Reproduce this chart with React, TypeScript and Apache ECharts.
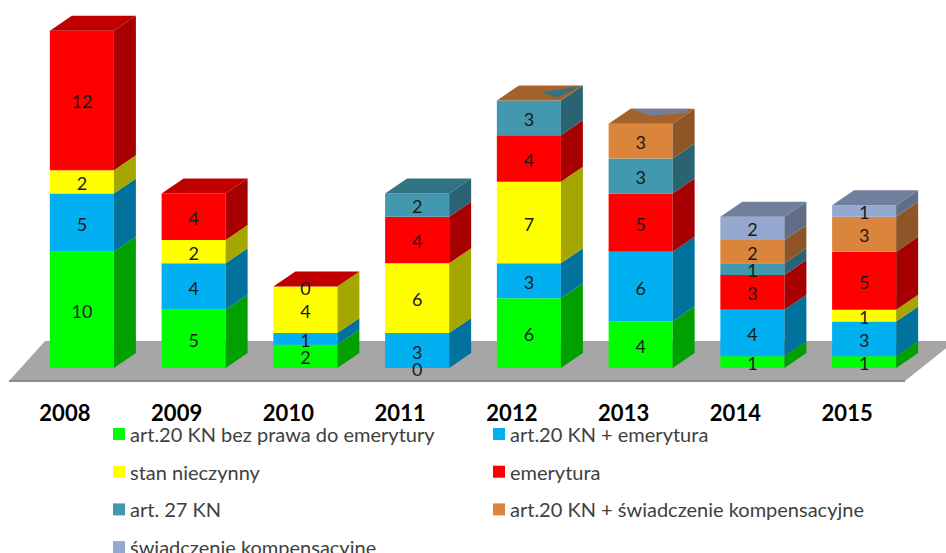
import React, { useEffect, useRef } from "react";
import * as echarts from "echarts";

const years = ["2008", "2009", "2010", "2011", "2012", "2013", "2014", "2015"];
const seriesNames = [
  "art.20 KN bez prawa do emerytury",
  "art.20 KN + emerytura",
  "stan nieczynny",
  "emerytura",
  "art. 27 KN",
  "art.20 KN + świadczenie kompensacyjne",
  "świadczenie kompensacyjne",
];

const bezPrawa = [10, 5, 2, 0, 6, 4, 1, 1];
const zEmerytura = [5, 4, 1, 3, 3, 6, 4, 3];
const stanNieczynny = [2, 2, 4, 6, 7, null, null, 1];
const emerytura = [12, 4, 0, 4, 4, 5, 3, 5];
const art27 = [null, null, null, 2, 3, 3, 1, null];
const zSwiadczenie = [null, null, null, null, null, 3, 2, 3];
const swiadczenie = [null, null, null, null, null, null, 2, 1];

const allValues: (number | null)[][] = [
  bezPrawa,
  zEmerytura,
  stanNieczynny,
  emerytura,
  art27,
  zSwiadczenie,
  swiadczenie,
];

const FRONT = ["#00ff00", "#00b0f0", "#ffff00", "#ff0000", "#4198af", "#da843c", "#95a9d0"];
const SIDE = ["#00a000", "#00729c", "#a6a600", "#a60000", "#2a6372", "#8e5627", "#616e87"];
const TOP = ["#00c000", "#0086b4", "#c0c000", "#c00000", "#317283", "#a4632d", "#707f9c"];

// rendering artefacts of the original 3D chart on two bar tops
const capFaces: Record<number, { face: number; wedge: number; pts: number[][] }> = {
  4: { face: 5, wedge: 4, pts: [[0.505, 0.533], [0.996, 0.967], [0.87, 0.2]] },
  5: { face: 5, wedge: 6, pts: [[0, 1], [0.92, 1], [0.95, 0.7], [0.45, 0.55]] },
};

const DX = 22;
const DY = 15;

export default function App() {
  const ref = useRef<HTMLDivElement>(null);
  useEffect(() => {
    if (!ref.current) return;
    const chart = echarts.init(ref.current, null, { renderer: "svg" });

    const topIndex = years.map((_, i) => {
      let t = -1;
      allValues.forEach((arr, s) => {
        if (arr[i] != null) t = s;
      });
      return t;
    });

    const series = allValues.map((arr, s) => {
      const data: number[][] = [];
      arr.forEach((v, i) => {
        if (v == null) return;
        let base = 0;
        for (let k = 0; k < s; k++) base += allValues[k][i] ?? 0;
        data.push([i, base, base + v, v]);
      });
      return {
        name: seriesNames[s],
        type: "custom",
        clip: false,
        itemStyle: { color: FRONT[s] },
        encode: { x: 0, y: [1, 2] },
        data,
        renderItem: (params: any, api: any) => {
          const i = api.value(0);
          const b = api.value(1);
          const t = api.value(2);
          const v = api.value(3);
          const pb = api.coord([i, b]);
          const pt = api.coord([i, t]);
          const band = api.size([1, 0])[0];
          const w = band * 0.573;
          const x0 = pb[0] - w / 2;
          const x1 = x0 + w;
          const yb = pb[1];
          const yt = pt[1];
          const children: any[] = [
            {
              type: "rect",
              shape: { x: x0, y: yt, width: w, height: yb - yt },
              style: { fill: FRONT[s] },
              z2: 1,
            },
            {
              type: "polygon",
              shape: {
                points: [
                  [x1, yb],
                  [x1 + DX, yb - DY],
                  [x1 + DX, yt - DY],
                  [x1, yt],
                ],
              },
              style: { fill: SIDE[s] },
              z2: 1,
            },
          ];
          if (topIndex[i] === s) {
            const cap = capFaces[i];
            children.push({
              type: "polygon",
              shape: {
                points: [
                  [x0, yt],
                  [x1, yt],
                  [x1 + DX, yt - DY],
                  [x0 + DX, yt - DY],
                ],
              },
              style: { fill: cap ? TOP[cap.face] : TOP[s] },
              z2: 2,
            });
            if (cap) {
              children.push({
                type: "polygon",
                shape: {
                  points: cap.pts.map(([u, d]) => [x0 + u * w + d * DX, yt - d * DY]),
                },
                style: { fill: TOP[cap.wedge] },
                z2: 3,
              });
            }
          }
          children.push({
            type: "text",
            x: x0 + w / 2,
            y: (yb + yt) / 2 + 1,
            style: {
              text: String(v),
              fill: "#1a1a1a",
              fontSize: 18,
              fontFamily: "Lato",
              align: "center",
              verticalAlign: "middle",
            },
            z2: 100,
          });
          return { type: "group", children };
        },
      };
    });

    const legendBase = {
      orient: "vertical",
      padding: 0,
      itemGap: 17.7,
      itemWidth: 12,
      itemHeight: 12,
      icon: "rect",
      selectedMode: false,
      textStyle: { fontFamily: "Lato", fontSize: 20, color: "#404040", lineHeight: 20 },
    };

    chart.setOption({
      animation: false,
      backgroundColor: "#ffffff",
      grid: { left: 26, right: 26, top: 19, bottom: 185 },
      xAxis: {
        type: "category",
        data: years,
        axisLine: { show: false },
        axisTick: { show: false },
        splitLine: { show: false },
        axisLabel: {
          interval: 0,
          fontFamily: "Lato",
          fontWeight: "bold",
          fontSize: 22,
          color: "#000000",
          margin: 33,
          padding: [0, 34, 0, 0],
        },
      },
      yAxis: { type: "value", min: 0, max: 30, show: false },
      legend: [
        { ...legendBase, left: 113, top: 424, data: [seriesNames[0], seriesNames[2], seriesNames[4]] },
        { ...legendBase, left: 113, top: 537.1, data: [seriesNames[6]] },
        { ...legendBase, left: 493, top: 424, data: [seriesNames[1], seriesNames[3], seriesNames[5]] },
      ],
      graphic: [
        {
          type: "polygon",
          z: 0,
          silent: true,
          shape: { points: [[9, 381], [905, 381], [955, 341], [45, 341]] },
          style: { fill: "#a6a6a6" },
        },
        {
          type: "line",
          z: 0,
          silent: true,
          shape: { x1: 9, y1: 381, x2: 905, y2: 381 },
          style: { stroke: "#8c8c8c", lineWidth: 2 },
        },
      ],
      series,
    });
    return () => chart.dispose();
  }, []);
  return (
    <div
      ref={ref}
      style={{ position: "absolute", left: 0, top: 0, width: 946, height: 553 }}
    />
  );
}
